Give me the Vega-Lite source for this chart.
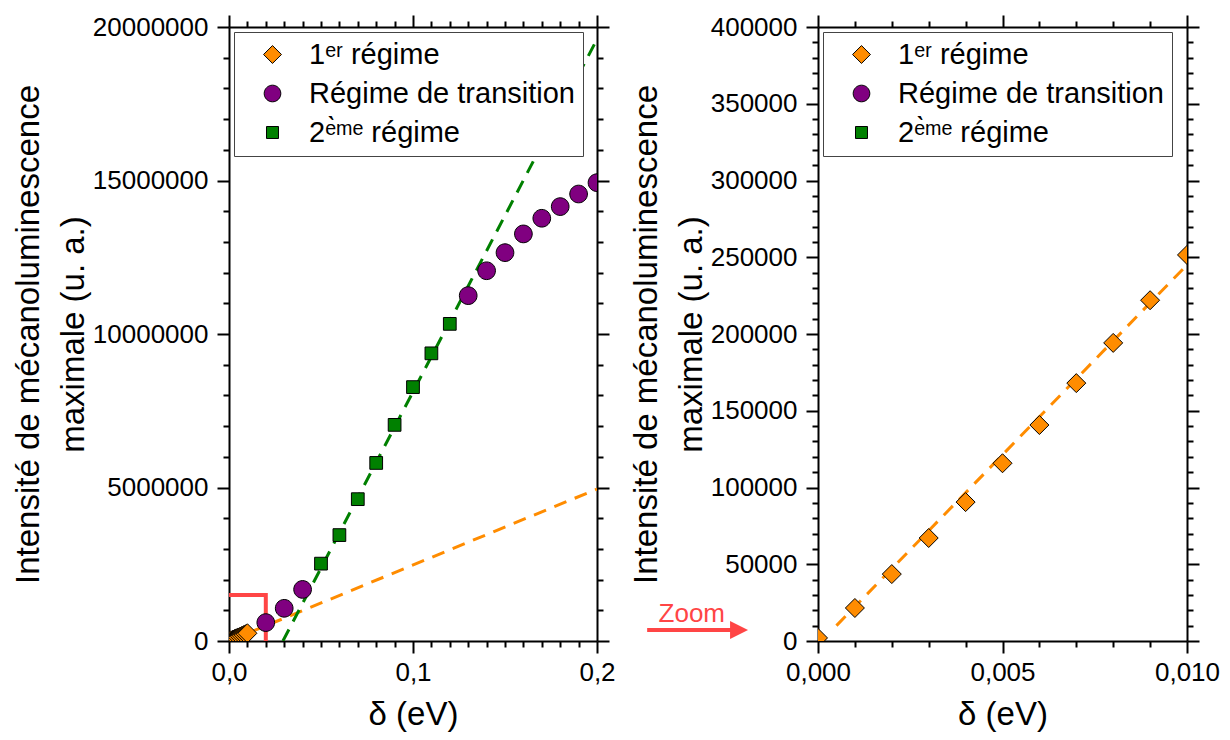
{
  "$schema": "https://vega.github.io/schema/vega-lite/v6.json",
  "background": "white",
  "padding": {"left": 12, "top": 14, "right": 5, "bottom": 5},
  "config": {
    "view": {"stroke": null},
    "font": "Liberation Sans",
    "axis": {
      "labelFont": "Liberation Sans", "labelFontSize": 26, "labelColor": "black",
      "titleFont": "Liberation Sans", "titleFontSize": 33, "titleFontWeight": "normal", "titleColor": "black",
      "domainColor": "black", "domainWidth": 2, "tickColor": "black", "tickWidth": 2,
      "grid": false, "labelFlush": false, "labelOverlap": false, "labelBound": false, "zindex": 1
    },
    "legend": {
      "orient": "top-left", "offset": 5, "padding": 8, "rowPadding": 9,
      "labelFont": "Liberation Sans", "labelFontSize": 29, "labelColor": "black", "labelLimit": 600,
      "fillColor": "white", "strokeColor": "#444", "strokeWidth": 1,
      "symbolOffset": 16, "labelOffset": 22, "symbolSize": 320,
      "symbolStrokeColor": "black", "symbolStrokeWidth": 1, "symbolType": "circle"
    }
  },
  "datasets": {
    "pts": [
      {"k": "o", "regime": "1ᵉʳ régime", "delta": 0.0, "I": 2000},
      {"k": "o", "regime": "1ᵉʳ régime", "delta": 0.001, "I": 21500},
      {"k": "o", "regime": "1ᵉʳ régime", "delta": 0.002, "I": 43600},
      {"k": "o", "regime": "1ᵉʳ régime", "delta": 0.003, "I": 67100},
      {"k": "o", "regime": "1ᵉʳ régime", "delta": 0.004, "I": 90500},
      {"k": "o", "regime": "1ᵉʳ régime", "delta": 0.005, "I": 115800},
      {"k": "o", "regime": "1ᵉʳ régime", "delta": 0.006, "I": 140700},
      {"k": "o", "regime": "1ᵉʳ régime", "delta": 0.007, "I": 168000},
      {"k": "o", "regime": "1ᵉʳ régime", "delta": 0.008, "I": 194200},
      {"k": "o", "regime": "1ᵉʳ régime", "delta": 0.009, "I": 222000},
      {"k": "o", "regime": "1ᵉʳ régime", "delta": 0.010, "I": 251500},
      {"k": "p", "regime": "Régime de transition", "delta": 0.02, "I": 600000},
      {"k": "p", "regime": "Régime de transition", "delta": 0.03, "I": 1065000},
      {"k": "p", "regime": "Régime de transition", "delta": 0.04, "I": 1680000},
      {"k": "g", "regime": "2ᵉ̀ᵐᵉ régime", "delta": 0.05, "I": 2520000},
      {"k": "g", "regime": "2ᵉ̀ᵐᵉ régime", "delta": 0.06, "I": 3450000},
      {"k": "g", "regime": "2ᵉ̀ᵐᵉ régime", "delta": 0.07, "I": 4620000},
      {"k": "g", "regime": "2ᵉ̀ᵐᵉ régime", "delta": 0.08, "I": 5800000},
      {"k": "g", "regime": "2ᵉ̀ᵐᵉ régime", "delta": 0.09, "I": 7040000},
      {"k": "g", "regime": "2ᵉ̀ᵐᵉ régime", "delta": 0.10, "I": 8270000},
      {"k": "g", "regime": "2ᵉ̀ᵐᵉ régime", "delta": 0.11, "I": 9370000},
      {"k": "g", "regime": "2ᵉ̀ᵐᵉ régime", "delta": 0.12, "I": 10330000},
      {"k": "p", "regime": "Régime de transition", "delta": 0.13, "I": 11250000},
      {"k": "p", "regime": "Régime de transition", "delta": 0.14, "I": 12060000},
      {"k": "p", "regime": "Régime de transition", "delta": 0.15, "I": 12650000},
      {"k": "p", "regime": "Régime de transition", "delta": 0.16, "I": 13260000},
      {"k": "p", "regime": "Régime de transition", "delta": 0.17, "I": 13770000},
      {"k": "p", "regime": "Régime de transition", "delta": 0.18, "I": 14150000},
      {"k": "p", "regime": "Régime de transition", "delta": 0.19, "I": 14560000},
      {"k": "p", "regime": "Régime de transition", "delta": 0.20, "I": 14930000}
    ],
    "fitO": [{"delta": 0.0, "I": 0}, {"delta": 0.2, "I": 4950000}],
    "fitG": [{"delta": 0.0293, "I": 0}, {"delta": 0.2, "I": 19600000}],
    "fitR": [{"delta": 0.0005, "I": 10000}, {"delta": 0.01, "I": 245000}],
    "box": [{"i": 1, "delta": 0.0, "I": 1500000}, {"i": 2, "delta": 0.02, "I": 1500000}, {"i": 3, "delta": 0.02, "I": 0}],
    "arrow": [{"delta": -0.00463, "I": 7200}, {"delta": -0.0023, "I": 7200}],
    "head": [{"delta": -0.00214, "I": 7200}],
    "zoomtxt": [{"delta": -0.00342, "I": 12600, "t": "Zoom"}]
  },
  "hconcat": [
    {
      "width": 368, "height": 614,
      "layer": [
        {
          "data": {"name": "fitO"},
          "mark": {"type": "line", "color": "#ff8c00", "strokeWidth": 3, "strokeDash": [13, 9], "clip": true},
          "encoding": {
            "x": {"field": "delta", "type": "quantitative",
              "scale": {"domain": [0, 0.2], "nice": false, "zero": false},
              "axis": {"orient": "bottom", "title": "δ (eV)",
                "values": [0,0.01,0.02,0.03,0.04,0.05,0.06,0.07,0.08,0.09,0.1,0.11,0.12,0.13,0.14,0.15,0.16,0.17,0.18,0.19,0.2],
                "labelExpr": "round(datum.value*100) % 10 === 0 ? replace(format(datum.value, '.1f'), '.', ',') : ''",
                "tickSize": {"condition": {"test": "round(datum.value*100) % 10 === 0", "value": 12}, "value": 6},
                "labelPadding": 6, "titlePadding": 13}},
            "y": {"field": "I", "type": "quantitative",
              "scale": {"domain": [0, 20000000], "nice": false},
              "axis": {"orient": "left", "title": ["Intensité de mécanoluminescence", "maximale (u. a.)"], "titleLineHeight": 45,
                "values": [0,1000000,2000000,3000000,4000000,5000000,6000000,7000000,8000000,9000000,10000000,11000000,12000000,13000000,14000000,15000000,16000000,17000000,18000000,19000000,20000000],
                "labelExpr": "datum.value % 5000000 === 0 ? format(datum.value, 'd') : ''",
                "tickSize": {"condition": {"test": "datum.value % 5000000 === 0", "value": 12}, "value": 6},
                "labelPadding": 9, "titlePadding": 2}}
          }
        },
        {
          "data": {"name": "fitG"},
          "mark": {"type": "line", "color": "#008000", "strokeWidth": 3, "strokeDash": [13, 9], "clip": true},
          "encoding": {
            "x": {"field": "delta", "type": "quantitative", "axis": null},
            "y": {"field": "I", "type": "quantitative", "axis": null}
          }
        },
        {
          "data": {"name": "box"},
          "mark": {"type": "line", "color": "#ff4545", "strokeWidth": 4, "clip": true},
          "encoding": {
            "x": {"field": "delta", "type": "quantitative", "axis": null},
            "y": {"field": "I", "type": "quantitative", "axis": null},
            "order": {"field": "i", "type": "quantitative"}
          }
        },
        {
          "data": {"name": "pts"},
          "mark": {"type": "point", "filled": true, "opacity": 1, "stroke": "black", "strokeWidth": 1, "size": 361, "clip": true},
          "encoding": {
            "x": {"field": "delta", "type": "quantitative",
              "axis": {"orient": "top", "title": null, "labels": false,
                "values": [0,0.01,0.02,0.03,0.04,0.05,0.06,0.07,0.08,0.09,0.1,0.11,0.12,0.13,0.14,0.15,0.16,0.17,0.18,0.19,0.2],
                "tickSize": {"condition": {"test": "round(datum.value*100) % 10 === 0", "value": 12}, "value": 6}}},
            "y": {"field": "I", "type": "quantitative",
              "axis": {"orient": "right", "title": null, "labels": false,
                "values": [0,1000000,2000000,3000000,4000000,5000000,6000000,7000000,8000000,9000000,10000000,11000000,12000000,13000000,14000000,15000000,16000000,17000000,18000000,19000000,20000000],
                "tickSize": {"condition": {"test": "datum.value % 5000000 === 0", "value": 12}, "value": 6}}},
            "color": {"field": "regime", "type": "nominal", "title": null,
              "scale": {"domain": ["1ᵉʳ régime", "Régime de transition", "2ᵉ̀ᵐᵉ régime"], "range": ["#ff8c00", "#800080", "#008000"]}},
            "shape": {"field": "regime", "type": "nominal", "title": null,
              "scale": {"domain": ["1ᵉʳ régime", "Régime de transition", "2ᵉ̀ᵐᵉ régime"],
                "range": ["M-1,0L0,-1L1,0L0,1Z", "M0.93,0A0.93,0.93,0,1,1,-0.93,0A0.93,0.93,0,1,1,0.93,0Z", "M-0.67,-0.67H0.67V0.67H-0.67Z"]}}
          }
        }
      ],
      "resolve": {"axis": {"x": "independent", "y": "independent"}}
    },
    {
      "width": 369, "height": 614,
      "layer": [
        {
          "data": {"name": "fitR"},
          "mark": {"type": "line", "color": "#ff8c00", "strokeWidth": 3, "strokeDash": [13, 9], "clip": true},
          "encoding": {
            "x": {"field": "delta", "type": "quantitative",
              "scale": {"domain": [0, 0.01], "nice": false, "zero": false},
              "axis": {"orient": "bottom", "title": "δ (eV)",
                "values": [0,0.001,0.002,0.003,0.004,0.005,0.006,0.007,0.008,0.009,0.01],
                "labelExpr": "round(datum.value*1000) % 5 === 0 ? replace(format(datum.value, '.3f'), '.', ',') : ''",
                "tickSize": {"condition": {"test": "round(datum.value*1000) % 5 === 0", "value": 12}, "value": 6},
                "labelPadding": 6, "titlePadding": 13}},
            "y": {"field": "I", "type": "quantitative",
              "scale": {"domain": [0, 400000], "nice": false},
              "axis": {"orient": "left", "title": ["Intensité de mécanoluminescence", "maximale (u. a.)"], "titleLineHeight": 45,
                "values": [0,10000,20000,30000,40000,50000,60000,70000,80000,90000,100000,110000,120000,130000,140000,150000,160000,170000,180000,190000,200000,210000,220000,230000,240000,250000,260000,270000,280000,290000,300000,310000,320000,330000,340000,350000,360000,370000,380000,390000,400000],
                "labelExpr": "datum.value % 50000 === 0 ? format(datum.value, 'd') : ''",
                "tickSize": {"condition": {"test": "datum.value % 50000 === 0", "value": 12}, "value": 6},
                "labelPadding": 9, "titlePadding": 2}}
          }
        },
        {
          "data": {"name": "pts"},
          "transform": [{"filter": {"field": "k", "equal": "o"}}],
          "mark": {"type": "point", "filled": true, "opacity": 1, "stroke": "black", "strokeWidth": 1, "size": 361, "clip": true},
          "encoding": {
            "x": {"field": "delta", "type": "quantitative",
              "axis": {"orient": "top", "title": null, "labels": false,
                "values": [0,0.001,0.002,0.003,0.004,0.005,0.006,0.007,0.008,0.009,0.01],
                "tickSize": {"condition": {"test": "round(datum.value*1000) % 5 === 0", "value": 12}, "value": 6}}},
            "y": {"field": "I", "type": "quantitative",
              "axis": {"orient": "right", "title": null, "labels": false,
                "values": [0,10000,20000,30000,40000,50000,60000,70000,80000,90000,100000,110000,120000,130000,140000,150000,160000,170000,180000,190000,200000,210000,220000,230000,240000,250000,260000,270000,280000,290000,300000,310000,320000,330000,340000,350000,360000,370000,380000,390000,400000],
                "tickSize": {"condition": {"test": "datum.value % 50000 === 0", "value": 12}, "value": 6}}},
            "color": {"field": "regime", "type": "nominal", "title": null,
              "scale": {"domain": ["1ᵉʳ régime", "Régime de transition", "2ᵉ̀ᵐᵉ régime"], "range": ["#ff8c00", "#800080", "#008000"]}},
            "shape": {"field": "regime", "type": "nominal", "title": null,
              "scale": {"domain": ["1ᵉʳ régime", "Régime de transition", "2ᵉ̀ᵐᵉ régime"],
                "range": ["M-1,0L0,-1L1,0L0,1Z", "M0.93,0A0.93,0.93,0,1,1,-0.93,0A0.93,0.93,0,1,1,0.93,0Z", "M-0.67,-0.67H0.67V0.67H-0.67Z"]}}
          }
        },
        {
          "data": {"name": "arrow"},
          "mark": {"type": "line", "color": "#ff4545", "strokeWidth": 4},
          "encoding": {
            "x": {"field": "delta", "type": "quantitative", "axis": null},
            "y": {"field": "I", "type": "quantitative", "axis": null}
          }
        },
        {
          "data": {"name": "head"},
          "mark": {"type": "point", "shape": "M-1,-1L1,0L-1,1Z", "filled": true, "color": "#ff4545", "opacity": 1, "size": 324},
          "encoding": {
            "x": {"field": "delta", "type": "quantitative", "axis": null},
            "y": {"field": "I", "type": "quantitative", "axis": null}
          }
        },
        {
          "data": {"name": "zoomtxt"},
          "mark": {"type": "text", "color": "#ff4545", "fontSize": 26, "font": "Liberation Sans", "align": "center", "baseline": "alphabetic"},
          "encoding": {
            "x": {"field": "delta", "type": "quantitative", "axis": null},
            "y": {"field": "I", "type": "quantitative", "axis": null},
            "text": {"field": "t"}
          }
        }
      ],
      "resolve": {"axis": {"x": "independent", "y": "independent"}}
    }
  ],
  "spacing": 14,
  "resolve": {"scale": {"color": "independent", "shape": "independent"}, "legend": {"color": "independent", "shape": "independent"}}
}
